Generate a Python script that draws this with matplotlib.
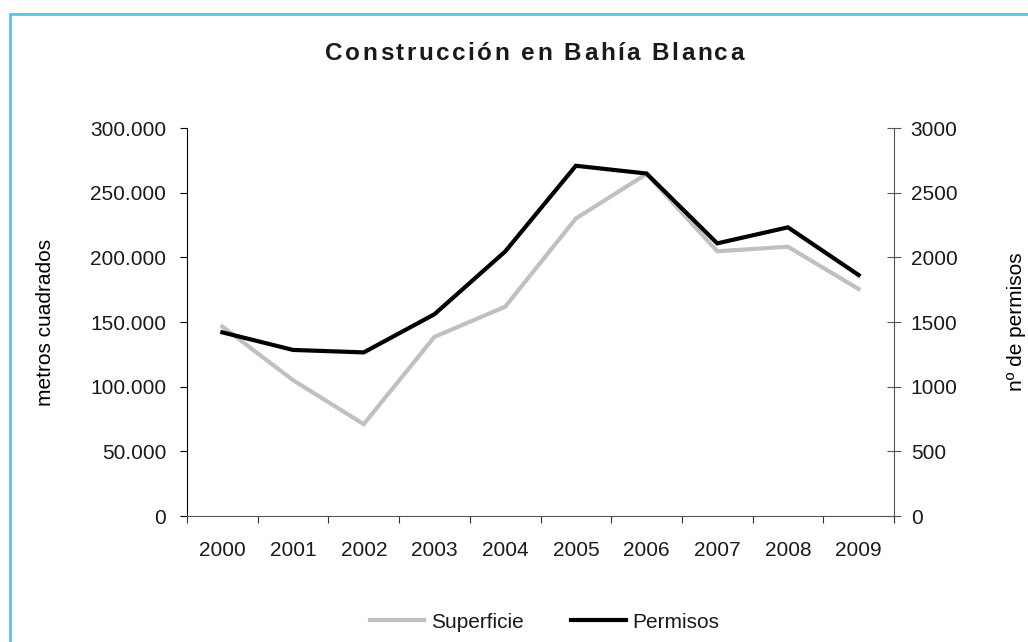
import matplotlib.pyplot as plt
from matplotlib.patches import Rectangle
from matplotlib.lines import Line2D
from matplotlib.ticker import FuncFormatter

plt.rcParams['font.family'] = ['Liberation Sans', 'DejaVu Sans']
plt.rcParams['text.color'] = '#1a1a1a'
plt.rcParams['xtick.labelcolor'] = '#1a1a1a'
plt.rcParams['ytick.labelcolor'] = '#1a1a1a'

years = ['2000', '2001', '2002', '2003', '2004', '2005', '2006', '2007', '2008', '2009']
superficie = [146500, 105000, 71000, 138500, 161800, 230000, 264500, 204700, 208200, 175500]
permisos = [1420, 1284, 1265, 1560, 2045, 2708, 2648, 2108, 2232, 1863]
title = 'Construcción en Bahía Blanca'

W, H = 1028, 642
fig = plt.figure(figsize=(W / 100, H / 100), dpi=100)

# cyan frame around the chart (runs off right and bottom edges)
fig.patches.append(Rectangle((10 / W, -0.05), 1.1, (H - 14) / H + 0.05,
                             transform=fig.transFigure, fill=False,
                             edgecolor='#5bc4dc', linewidth=2))

ax = fig.add_axes([187 / W, 1 - 516 / H, (894 - 187) / W, (516 - 128) / H])
ax2 = ax.twinx()

x = range(len(years))
ax.plot(x, superficie, color='#c0c0c0', linewidth=3, solid_joinstyle='miter')
ax2.plot(x, permisos, color='black', linewidth=3, solid_joinstyle='miter')

ax.set_xlim(-0.5, len(years) - 0.5)
ax.set_ylim(0, 300000)
ax2.set_ylim(0, 3000)
ax.set_yticks(range(0, 300001, 50000))
ax2.set_yticks(range(0, 3001, 500))
ax.yaxis.set_major_formatter(FuncFormatter(lambda v, p: f'{int(v):,}'.replace(',', '.')))

ax.set_xticks([i - 0.5 for i in range(len(years) + 1)])
ax.set_xticklabels([])
ax.set_xticks(list(x), minor=True)
ax.set_xticklabels(years, minor=True)
ax.tick_params(axis='x', which='major', direction='out', length=5, color='#333333')
ax.tick_params(axis='x', which='minor', length=0, pad=18, labelsize=15)
ax.tick_params(axis='y', direction='out', length=5, labelsize=15, pad=10)
ax2.tick_params(axis='y', direction='inout', length=10, labelsize=15, pad=7, color='#555555')

for a in (ax, ax2):
    a.spines['top'].set_visible(False)
ax.spines['right'].set_visible(False)
ax2.spines['left'].set_visible(False)
ax2.spines['bottom'].set_visible(False)
ax2.spines['right'].set_color('#555555')
ax.spines['bottom'].set_color('#555555')

ax.set_ylabel('metros cuadrados', fontsize=15)
ax2.set_ylabel('nº de permisos', fontsize=15)
ax.yaxis.set_label_coords((46 - 187) / (894 - 187), 0.5)
ax2.yaxis.set_label_coords((1016 - 187) / (894 - 187), 0.5)
ax.yaxis.label.set_verticalalignment('center')
ax2.yaxis.label.set_verticalalignment('center')

# title with wide letter spacing: place character by character
renderer = fig.canvas.get_renderer()
tkw = dict(fontsize=17.5, fontweight='bold', va='center', ha='left')


def text_width(s):
    t = fig.text(0, 0, s, **tkw)
    w = t.get_window_extent(renderer).width
    t.remove()
    return w


left, right, ty = 325, 744, 1 - 54 / H
spacing = (right - left - text_width(title)) / (len(title) - 1)
for i, ch in enumerate(title):
    xpos = left + text_width(title[:i]) + i * spacing if i else left
    fig.text(xpos / W, ty, ch, **tkw)

handles = [Line2D([], [], color='#c0c0c0', linewidth=3),
           Line2D([], [], color='black', linewidth=3)]
fig.legend(handles, ['Superficie', 'Permisos'], loc='center', ncol=2,
           bbox_to_anchor=(544.5 / W, 1 - 622 / H), frameon=False, fontsize=15,
           handlelength=2.6, handletextpad=0.33, columnspacing=2.3)

fig.savefig('out.png', dpi=100)
